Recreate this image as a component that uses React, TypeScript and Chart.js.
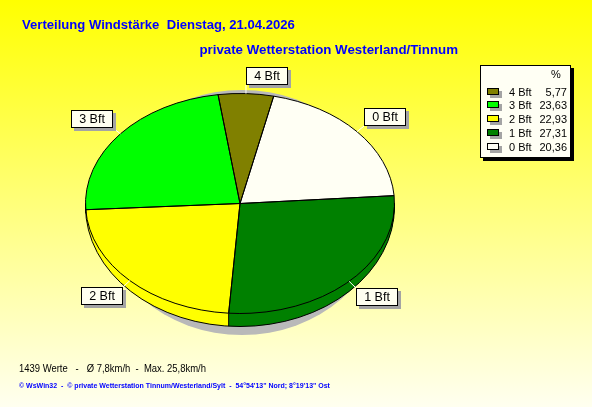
import React, { useEffect, useRef } from 'react';
import { Chart, registerables } from 'chart.js';

Chart.register(...registerables);

// Wind force distribution (share of readings per Beaufort class, in %)
const categories = ['0 Bft', '1 Bft', '2 Bft', '3 Bft', '4 Bft'];
const shares = [20.36, 27.31, 22.93, 23.63, 5.77];
const shareLabels = ['20,36', '27,31', '22,93', '23,63', '5,77'];
const sliceColors = ['#FFFFF4', '#008000', '#FFFF00', '#00FF00', '#808000'];

const titleText = 'Verteilung Windstärke  Dienstag, 21.04.2026';
const subtitleText = 'private Wetterstation Westerland/Tinnum';
const summaryText = '1439 Werte   -   Ø 7,8km/h  -  Max. 25,8km/h';
const footerText = '© WsWin32  -  © private Wetterstation Tinnum/Westerland/Sylt  -  54°54\'13" Nord; 8°19\'13" Ost';

// Look of the tilted pie
const START_ROTATION = 12.6; // degrees past 12 o'clock where "0 Bft" begins
const TILT = 110 / 154.5; // vertical squash of the disc
const RIM_TOP = 3; // rim depth at the sides
const RIM_EXTRA = 10; // extra rim depth towards the front
const FONT = '"Liberation Sans", Arial, Helvetica, sans-serif';

type ArcLike = {
  x: number;
  y: number;
  startAngle: number;
  endAngle: number;
  outerRadius: number;
  draw: (ctx: CanvasRenderingContext2D) => void;
};

const tiltedPie = {
  id: 'tiltedPie',
  beforeDatasetsDraw(chart: Chart) {
    const ctx = chart.ctx;
    const arcs = chart.getDatasetMeta(0).data as unknown as ArcLike[];
    if (!arcs.length) return;
    const { x: cx, y: cy, outerRadius: r } = arcs[0];
    const ry = r * TILT;

    ctx.save();
    // drop shadow under the disc
    ctx.fillStyle = '#B9B9B9';
    ctx.beginPath();
    ctx.ellipse(cx + 2, cy + 9, r - 14, ry + 12.5, 0, 0, Math.PI * 2);
    ctx.fill();

    // side wall: stacked copies of the slices, only the front half is visible
    ctx.save();
    ctx.beginPath();
    ctx.rect(0, cy, chart.width, chart.height - cy);
    ctx.clip();
    const steps = 16;
    for (let s = steps; s >= 1; s--) {
      const t = s / steps;
      ctx.save();
      ctx.translate(cx, cy + RIM_TOP * t);
      ctx.scale(1, (ry + RIM_EXTRA * t) / r);
      ctx.translate(-cx, -cy);
      arcs.forEach((a) => a.draw(ctx));
      ctx.restore();
    }
    ctx.restore();

    // top surface is drawn by the controller with this transform
    ctx.save();
    ctx.translate(cx, cy);
    ctx.scale(1, TILT);
    ctx.translate(-cx, -cy);
  },
  afterDatasetsDraw(chart: Chart) {
    const ctx = chart.ctx;
    const arcs = chart.getDatasetMeta(0).data as unknown as ArcLike[];
    if (!arcs.length) return;
    ctx.restore();
    const { x: cx, y: cy, outerRadius: r } = arcs[0];
    const ry = r * TILT;
    const ryb = ry + RIM_EXTRA;
    const cyb = cy + RIM_TOP;

    ctx.strokeStyle = '#000';
    ctx.lineWidth = 1;

    // rim outline on the front half
    ctx.beginPath();
    ctx.ellipse(cx, cyb, r, ryb, 0, 0, Math.PI);
    ctx.stroke();
    const edge = (th: number) => {
      ctx.beginPath();
      ctx.moveTo(cx + r * Math.cos(th), cy + ry * Math.sin(th));
      ctx.lineTo(cx + r * Math.cos(th), cyb + ryb * Math.sin(th));
      ctx.stroke();
    };
    edge(0);
    edge(Math.PI);
    arcs.forEach((a) => {
      let th = a.startAngle % (Math.PI * 2);
      if (th < 0) th += Math.PI * 2;
      if (th > 0 && th < Math.PI) edge(th);
    });

    // slice outlines on the top surface
    arcs.forEach((a) => {
      ctx.beginPath();
      ctx.moveTo(cx, cy);
      ctx.ellipse(cx, cy, r, ry, 0, a.startAngle, a.endAngle);
      ctx.closePath();
      ctx.stroke();
    });

    // callout labels
    ctx.font = `12.5px ${FONT}`;
    ctx.textBaseline = 'middle';
    ctx.textAlign = 'center';
    arcs.forEach((a, i) => {
      const mid = (a.startAngle + a.endAngle) / 2;
      const c = Math.cos(mid);
      const s = Math.sin(mid);
      const px = cx + r * c;
      const py = cy + ry * s;
      const ex = Math.round(px + 9 * c);
      const ey = Math.round(py + 9 * s);
      const label = categories[i];
      const w = Math.round(ctx.measureText(label).width) + 16;
      const h = 18;
      const bx = c >= 0 ? ex : ex - w;
      const by = s < 0 ? ey - h : ey;

      ctx.strokeStyle = '#FFFFFF';
      ctx.beginPath();
      ctx.moveTo(px, py);
      ctx.lineTo(ex, ey);
      ctx.stroke();

      ctx.fillStyle = '#A4A4A4';
      ctx.fillRect(bx + 3, by + 3, w, h);
      ctx.fillStyle = '#FFFFF0';
      ctx.fillRect(bx, by, w, h);
      ctx.strokeStyle = '#000';
      ctx.strokeRect(bx + 0.5, by + 0.5, w - 1, h - 1);
      ctx.fillStyle = '#000';
      ctx.fillText(label, bx + w / 2, by + h / 2 + 0.5);
    });
  },
};

const abs = (extra: React.CSSProperties): React.CSSProperties => ({
  position: 'absolute',
  whiteSpace: 'pre',
  margin: 0,
  ...extra,
});

export default function App() {
  const canvasRef = useRef<HTMLCanvasElement>(null);

  useEffect(() => {
    const canvas = canvasRef.current;
    if (!canvas) return;
    const chart = new Chart(canvas, {
      type: 'pie',
      data: {
        labels: categories,
        datasets: [
          {
            data: shares,
            backgroundColor: sliceColors,
            borderWidth: 0,
            hoverOffset: 0,
            clip: false,
          } as any,
        ],
      },
      options: {
        responsive: false,
        animation: false,
        devicePixelRatio: 1,
        rotation: START_ROTATION,
        events: [],
        layout: { padding: { left: 85.5, right: 197.5, top: 49, bottom: 49 } },
        plugins: { legend: { display: false }, tooltip: { enabled: false } },
      },
      plugins: [tiltedPie as any],
    });
    return () => chart.destroy();
  }, []);

  const legendRows = categories.map((c, i) => i).reverse();

  return (
    <div
      style={{
        position: 'fixed',
        left: 0,
        top: 0,
        width: 592,
        height: 407,
        overflow: 'hidden',
        background: 'linear-gradient(to bottom, #FFFF00 0%, #FFFF7A 50%, #FFFFF0 100%)',
        fontFamily: FONT,
      }}
    >
      <canvas ref={canvasRef} width={592} height={407} style={{ position: 'absolute', left: 0, top: 0 }} />

      <div style={abs({ left: 22, top: 17, font: `bold 13.1px/15px ${FONT}`, color: '#0000FF' })}>{titleText}</div>
      <div style={abs({ right: 134, top: 42, font: `bold 13.3px/15px ${FONT}`, color: '#0000FF' })}>{subtitleText}</div>

      <div
        style={abs({
          left: 480,
          top: 65,
          width: 91,
          height: 93,
          boxSizing: 'border-box',
          border: '1px solid #000',
          background: '#FFFFF4',
          boxShadow: '3px 3px 0 #000',
          font: `11px/13px ${FONT}`,
          color: '#000',
        })}
      >
        <span style={abs({ left: 70, top: 2 })}>%</span>
        {legendRows.map((idx, row) => {
          const center = 26 + row * 13.75;
          return (
            <React.Fragment key={idx}>
              <span
                style={abs({
                  left: 6,
                  top: Math.round(center - 4.5),
                  width: 12,
                  height: 7,
                  boxSizing: 'border-box',
                  border: '1px solid #000',
                  background: sliceColors[idx],
                  boxShadow: '3px 3px 0 #A4A4A4',
                })}
              />
              <span style={abs({ left: 28, top: Math.round(center - 6.5) })}>{categories[idx]}</span>
              <span style={abs({ right: 3, top: Math.round(center - 6.5) })}>{shareLabels[idx]}</span>
            </React.Fragment>
          );
        })}
      </div>

      <div
        style={abs({
          left: 19,
          top: 362,
          font: `11px/13px ${FONT}`,
          color: '#000',
          transform: 'scaleX(0.86)',
          transformOrigin: '0 0',
        })}
      >
        {summaryText}
      </div>
      <div style={abs({ left: 19, top: 381, font: `bold 7px/10px ${FONT}`, color: '#0000FF' })}>{footerText}</div>
    </div>
  );
}
